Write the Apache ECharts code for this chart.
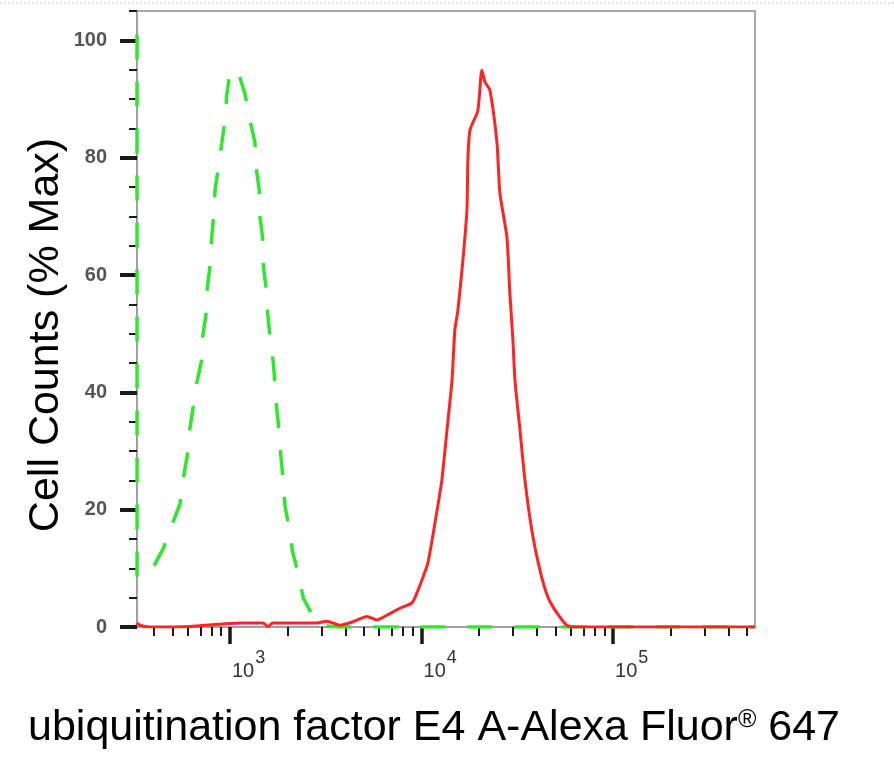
<!DOCTYPE html>
<html>
<head>
<meta charset="utf-8">
<title>flow histogram</title>
<script src="https://cdn.jsdelivr.net/npm/echarts@6/dist/echarts.min.js"></script>
<style>
  html, body { margin: 0; padding: 0; background: #fff; }
  #chart { width: 894px; height: 757px; }
</style>
</head>
<body>
<div id="chart"></div>
<script>
// x values are log10 of fluorescence intensity, y values are % of max
var xMinLog = 2.5146;
var xMaxLog = 5.741;

// isotype control (green dashed)
var controlLog = [2.5146, 2.5150, 2.591, 2.652, 2.696, 2.739, 2.756, 2.777, 2.788, 2.808, 2.826,
  2.852, 2.858, 2.875, 2.882, 2.896, 2.904, 2.915, 2.922, 2.939, 2.957, 2.974, 2.983, 3.000,
  3.021, 3.043, 3.078, 3.104, 3.130, 3.136, 3.153, 3.157, 3.171, 3.174, 3.188, 3.197, 3.209,
  3.226, 3.235, 3.244, 3.257, 3.266, 3.278, 3.287, 3.309, 3.327, 3.356, 3.383, 3.444, 3.496,
  3.574, 5.741];
var controlPct = [101, 8.5, 9.7, 13.4, 17.3, 21.0, 25.3, 29.3, 33.2, 37.5, 41.5,
  45.5, 49.6, 53.3, 57.9, 61.6, 66.2, 70.0, 74.4, 78.4, 82.4, 86.4, 90.6, 94.6,
  95.0, 94.6, 90.9, 86.4, 82.7, 78.4, 74.4, 69.9, 66.2, 61.6, 57.9, 53.3, 49.6,
  45.1, 41.5, 37.2, 33.2, 29.0, 25.0, 20.7, 16.8, 12.8, 9.1, 4.9, 1.2, 0.2,
  0, 0];

// stained sample (red solid)
var stainedLog = [2.5146, 2.530, 2.582, 2.791, 3.052, 3.172, 3.198, 3.224, 3.454, 3.506, 3.574,
  3.642, 3.715, 3.767, 3.819, 3.887, 3.950, 3.976, 4.002, 4.033, 4.070, 4.106, 4.133, 4.159,
  4.174, 4.190, 4.216, 4.237, 4.242, 4.253, 4.294, 4.315, 4.331, 4.357, 4.394, 4.409, 4.446,
  4.461, 4.477, 4.488, 4.514, 4.540, 4.576, 4.618, 4.660, 4.707, 4.759, 4.811, 5.741];
var stainedPct = [0.7, 0.3, 0, 0.1, 0.7, 0.7, 0.1, 0.7, 0.7, 1.0, 0.3,
  0.9, 1.8, 1.2, 2.0, 3.2, 4.1, 5.8, 8.0, 10.9, 17.7, 25.0, 33.6, 42.0,
  50.6, 54.0, 62.5, 71.0, 79.6, 84.7, 88.0, 94.9, 92.9, 91.5, 82.5, 74.0, 66.4,
  57.0, 49.0, 42.0, 33.6, 25.0, 16.5, 9.7, 5.1, 2.4, 0.3, 0, 0];

// axis ticks
var xDecades = [3, 4, 5];
var xMinorRaw = [400, 500, 600, 700, 800, 900,
  2000, 3000, 4000, 5000, 6000, 7000, 8000, 9000,
  20000, 30000, 40000, 50000, 60000, 70000, 80000, 90000,
  200000, 300000, 400000, 500000];
var yMajor = [0, 20, 40, 60, 80, 100];
var yMinor = [5, 10, 15, 25, 30, 35, 45, 50, 55, 65, 70, 75, 85, 90, 95, 105];

var xTitle = 'ubiquitination factor E4 A-Alexa Fluor';
var yTitle = 'Cell Counts (% Max)';

function pairs(xs, ys) {
  return xs.map(function (x, i) { return [x, ys[i]]; });
}

var font = 'Liberation Sans, Arial, sans-serif';
var myChart = echarts.init(document.getElementById('chart'));

var option = {
  animation: false,
  backgroundColor: '#fff',
  grid: {
    left: 137, right: 139, top: 11, bottom: 130,
    show: true, borderColor: '#a8a8a8', borderWidth: 2
  },
  xAxis: [{
    type: 'value', min: xMinLog, max: xMaxLog,
    axisLine: { show: true, lineStyle: { color: '#a0a0a0', width: 2 } },
    axisTick: { show: true, customValues: xDecades, length: 17, lineStyle: { color: '#1a1a1a', width: 3.5 } },
    axisLabel: {
      show: true, customValues: xDecades, margin: 22, align: 'left', padding: [0, 0, 0, 2],
      formatter: function (v) { return '{b|10}{s|' + Math.round(v) + '}'; },
      rich: {
        b: { fontFamily: font, fontSize: 20, color: '#333', lineHeight: 32, verticalAlign: 'bottom' },
        s: { fontFamily: font, fontSize: 18, color: '#333', lineHeight: 20, verticalAlign: 'top', padding: [0, 0, 0, 1] }
      }
    },
    splitLine: { show: false }
  }, {
    type: 'value', min: xMinLog, max: xMaxLog, position: 'bottom',
    axisLine: { show: false },
    axisTick: { show: true, customValues: xMinorRaw.map(Math.log10), length: 9, lineStyle: { color: '#1a1a1a', width: 2 } },
    axisLabel: { show: false },
    splitLine: { show: false }
  }],
  yAxis: [{
    type: 'value', min: 0, max: 105,
    axisLine: { show: true, lineStyle: { color: '#a0a0a0', width: 2 } },
    axisTick: { show: true, customValues: yMajor, length: 17, lineStyle: { color: '#1a1a1a', width: 4 } },
    axisLabel: { show: true, customValues: yMajor, margin: 30, fontFamily: font, fontSize: 20, fontWeight: 'bold', color: '#555' },
    splitLine: { show: false }
  }, {
    type: 'value', min: 0, max: 105, position: 'left',
    axisLine: { show: false },
    axisTick: { show: true, customValues: yMinor, length: 8, lineStyle: { color: '#1a1a1a', width: 2 } },
    axisLabel: { show: false },
    splitLine: { show: false }
  }],
  graphic: [{
    type: 'line', silent: true,
    shape: { x1: 0, y1: 3, x2: 894, y2: 3 },
    style: { stroke: '#c8c8c8', lineWidth: 1, lineDash: [2, 2] }
  }, {
    type: 'text', silent: true, left: 28, top: 702,
    style: {
      x: 0, y: 0,
      text: '{m|' + xTitle + '}{r|®}{m| 647}',
      rich: {
        m: { fontFamily: font, fontSize: 43, color: '#000', lineHeight: 48, verticalAlign: 'bottom' },
        r: { fontFamily: font, fontSize: 25, color: '#000', lineHeight: 20, verticalAlign: 'top', padding: [6, 0, 0, 0] }
      }
    }
  }, {
    type: 'text', silent: true, rotation: Math.PI / 2,
    x: 46, y: 335,
    style: {
      text: yTitle, fontFamily: font, fontSize: 43, fill: '#000',
      align: 'center', verticalAlign: 'middle'
    }
  }],
  series: [{
    name: 'control', type: 'line', xAxisIndex: 0, yAxisIndex: 0,
    data: pairs(controlLog, controlPct),
    showSymbol: false, smooth: false, z: 2,
    lineStyle: { color: '#2ee82e', width: 3.5, type: [25, 22] }
  }, {
    name: 'stained', type: 'line', xAxisIndex: 0, yAxisIndex: 0,
    data: pairs(stainedLog, stainedPct),
    showSymbol: false, smooth: 0.2, z: 3,
    lineStyle: { color: '#ff2424', width: 3 }
  }]
};
myChart.setOption(option);
</script>
</body>
</html>
